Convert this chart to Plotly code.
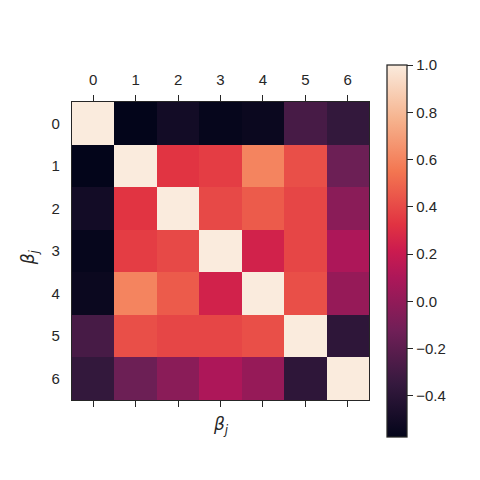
import plotly.graph_objects as go

# === DATOS ===
labels = ["0", "1", "2", "3", "4", "5", "6"]
corr = [
    [1.00, -0.574, -0.50, -0.56, -0.54, -0.28, -0.36],
    [-0.574, 1.00, 0.33, 0.36, 0.60, 0.42, -0.14],
    [-0.50, 0.33, 1.00, 0.40, 0.46, 0.39, -0.03],
    [-0.56, 0.36, 0.40, 1.00, 0.245, 0.39, 0.10],
    [-0.54, 0.60, 0.46, 0.245, 1.00, 0.42, 0.015],
    [-0.28, 0.42, 0.39, 0.39, 0.42, 1.00, -0.38],
    [-0.36, -0.14, -0.03, 0.10, 0.015, -0.38, 1.00],
]
cbar_ticks = [-0.4, -0.2, 0.0, 0.2, 0.4, 0.6, 0.8, 1.0]

# rocket (seaborn) aproximado
rocket = [
    [0.0, "#03051a"],
    [1 / 7, "#35193e"],
    [2 / 7, "#701f57"],
    [3 / 7, "#ad1759"],
    [0.5, "#cb1b4f"],
    [4 / 7, "#e13342"],
    [5 / 7, "#f37651"],
    [6 / 7, "#f6b48f"],
    [1.0, "#faebdd"],
]

ink = "#262626"
font = dict(family="Liberation Sans, Arial, sans-serif", size=15, color=ink)

fig = go.Figure(go.Heatmap(
    z=corr,
    x=labels,
    y=labels,
    colorscale=rocket,
    xgap=0, ygap=0,
    colorbar=dict(
        x=(387 - 72) / 297, xanchor="left", xpad=0,
        y=0.5, yanchor="middle", ypad=0,
        thickness=20,
        lenmode="pixels", len=372,
        outlinewidth=1.25, outlinecolor=ink,
        tickvals=cbar_ticks,
        ticktext=[f"{v:.1f}".replace("-", "\u2212") for v in cbar_ticks],
        ticks="outside", ticklen=6, tickwidth=1.25, tickcolor=ink,
        tickfont=font,
    ),
))

fig.update_xaxes(
    side="top", type="category",
    ticks="outside", ticklen=6, tickwidth=1.25, tickcolor=ink,
    ticklabelstandoff=4,
    showline=True, linecolor=ink, linewidth=1.25, mirror="ticks",
    showgrid=False, zeroline=False, tickfont=font,
)
fig.update_yaxes(
    type="category", autorange="reversed",
    ticks="outside", ticklen=8, tickcolor="rgba(0,0,0,0)",
    showline=True, linecolor=ink, linewidth=1.25, mirror=True,
    showgrid=False, zeroline=False, tickfont=font,
)

# la página tiene 8px de margen en el body: se compensa en los márgenes
beta = "<i>β<sub>j</sub></i>"
fig.update_layout(
    width=480, height=480,
    margin=dict(l=64, r=119, t=94, b=88, autoexpand=False),
    paper_bgcolor="white", plot_bgcolor="white",
    font=font,
    annotations=[
        dict(text=beta, xref="paper", yref="paper", x=0.5, y=-0.04,
             xanchor="center", yanchor="top", showarrow=False,
             font=dict(family="DejaVu Sans", size=17, color=ink)),
        dict(text=beta, xref="paper", yref="paper", x=-0.095, y=0.48,
             xanchor="right", yanchor="middle", textangle=-90, showarrow=False,
             font=dict(family="DejaVu Sans", size=17, color=ink)),
    ],
)

fig.write_html("out.html")
